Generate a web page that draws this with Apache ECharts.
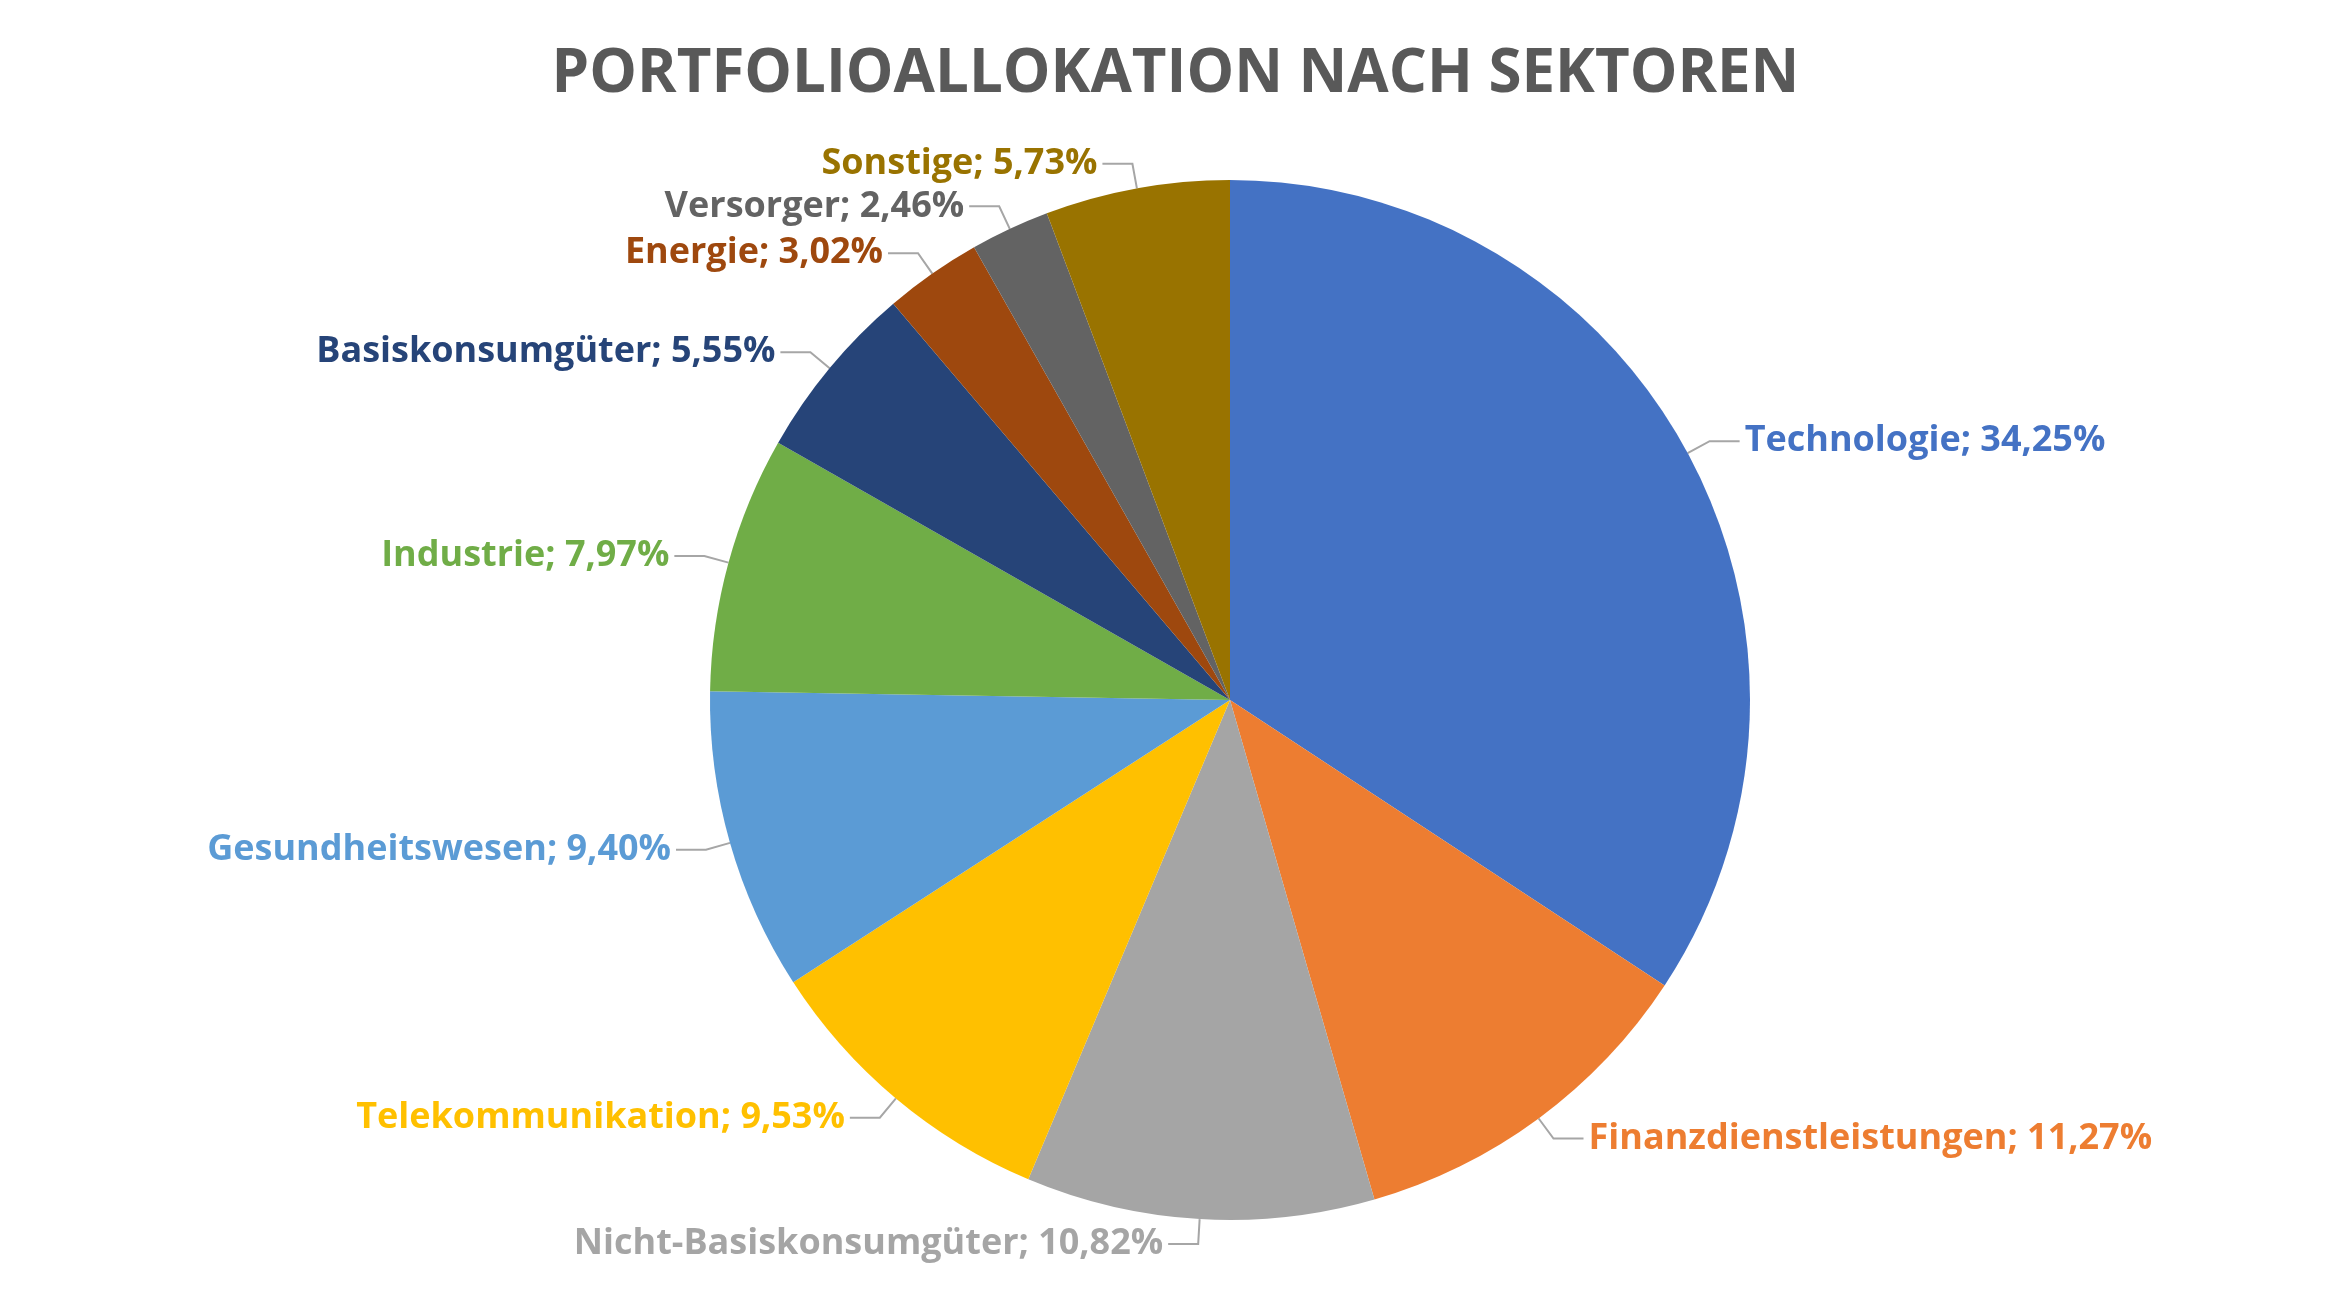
<!DOCTYPE html>
<html><head><meta charset="utf-8">
<script src="https://cdn.jsdelivr.net/npm/echarts@6/dist/echarts.min.js"></script>
<style>html,body{margin:0;background:#fff}#c{width:2351px;height:1299px}</style>
</head><body><div id="c"></div>
<script>
const categories=["Technologie","Finanzdienstleistungen","Nicht-Basiskonsumgüter","Telekommunikation","Gesundheitswesen","Industrie","Basiskonsumgüter","Energie","Versorger","Sonstige"];
const values=[34.25,11.27,10.82,9.53,9.40,7.97,5.55,3.02,2.46,5.73];
const colors=["#4472C4","#ED7D31","#A5A5A5","#FFC000","#5B9BD5","#70AD47","#264478","#9E480E","#636363","#997300"];
const chart=echarts.init(document.getElementById('c'));
chart.setOption({
 title:{text:"PORTFOLIOALLOKATION NACH SEKTOREN",left:'center',top:40,textStyle:{fontFamily:'Open Sans',fontSize:60,fontWeight:'bold',color:'#595959'}},
 series:[{type:'pie',center:[1230,700],radius:[0,520],startAngle:90,clockwise:true,
  data:categories.map((c,i)=>({name:c,value:values[i],itemStyle:{color:colors[i]},label:{color:colors[i]}})),
  label:{fontFamily:'Open Sans',fontSize:36,fontWeight:'bold',
   formatter:p=>p.name+'; '+p.value.toFixed(2).replace('.',',')+'%'},
  labelLine:{length:25,length2:30,lineStyle:{color:'#A6A6A6',width:2}}
 }]
});
</script></body></html>
